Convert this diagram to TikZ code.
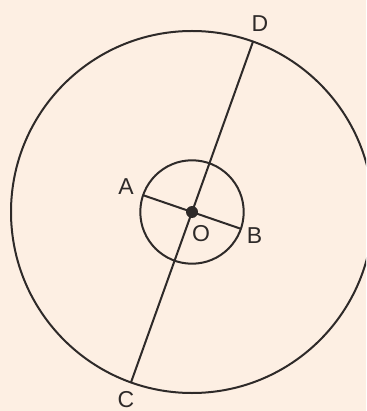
\documentclass[tikz,border=0pt]{standalone}
\usepackage{fontspec}
\setmainfont{Liberation Sans}
\definecolor{paper}{HTML}{FDEFE3}
\definecolor{ink}{HTML}{2E2A29}
\tikzset{
  lbl/.style={text=ink,font=\fontsize{23}{23}\selectfont,inner sep=0pt},
  edge/.style={draw=ink,line width=2pt}
}
\begin{document}
\begin{tikzpicture}[x=1pt,y=-1pt]
\fill[paper] (0,0) rectangle (366,411);
\useasboundingbox (0,0) rectangle (366,411);
\clip (0,0) rectangle (366,411);

\coordinate (O) at (192,212);
\coordinate (A) at (143.1,195.2);
\coordinate (B) at (240.9,228.8);
\coordinate (C) at (131,382.4);
\coordinate (D) at (253,41.6);

% circles
\draw[edge] (O) circle[radius=181];
\draw[edge] (O) circle[radius=51.7];

% chords
\draw[edge] (C) -- (D);
\draw[edge] (A) -- (B);
\fill[ink] (O) circle[radius=6];

\node[lbl] (la) at (126,187) {A};
\node[lbl] (lb) at (254.5,236) {B};
\node[lbl] (lc) at (126,399.5) {C};
\node[lbl] (ld) at (260,24) {D};
\node[lbl] (lo) at (201,234) {O};
\end{tikzpicture}
\end{document}
